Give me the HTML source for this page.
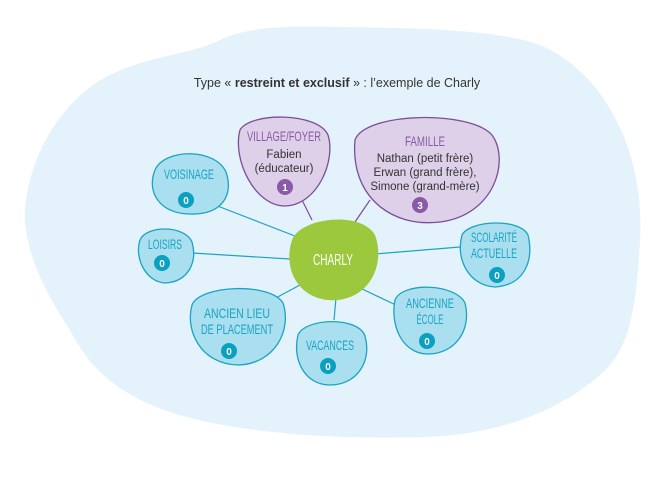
<!DOCTYPE html>
<html><head><meta charset="utf-8"><style>
body{margin:0;background:#fff;width:658px;height:484px;overflow:hidden}
text{font-family:"Liberation Sans",sans-serif}
.h{fill:#1ba3c4;font-size:14px}
.hp{fill:#8a5aa8;font-size:14px}
.b{fill:#333;font-size:11.5px}
</style></head><body>
<svg width="658" height="484" viewBox="0 0 658 484" xmlns="http://www.w3.org/2000/svg">
<path d="M220,40 C250,25 300,26 340,27 C420,28 500,30 540,45 C610,75 645,160 640,240 C636,310 630,350 600,375 C560,410 500,435 424,437 C330,440 230,432 170,412 C120,395 90,370 70,330 C40,285 20,240 26,200 C35,140 70,95 110,75 C150,55 190,55 220,40 Z" fill="#e4f3fb"/>
<text x="337" y="87" text-anchor="middle" style="font-size:12.5px;fill:#333">Type « <tspan font-weight="bold">restreint et exclusif</tspan> » : l’exemple de Charly</text>
<g stroke="#1ba3c4" stroke-width="1.2">
<line x1="215" y1="205" x2="300" y2="238"/>
<line x1="192" y1="253" x2="290" y2="259"/>
<line x1="272" y1="300" x2="300" y2="285"/>
<line x1="336" y1="298" x2="334" y2="320"/>
<line x1="360" y1="288" x2="400" y2="307"/>
<line x1="375" y1="254" x2="460" y2="247"/>
</g>
<g stroke="#7b4d9b" stroke-width="1.2">
<line x1="302" y1="200" x2="312" y2="220"/>
<line x1="370" y1="200" x2="355" y2="222"/>
</g>
<g fill="#a9dfee" stroke="#1ba3c4" stroke-width="1.3">
<path d="M155,170 C165,148 215,148 226,172 C234,195 222,215 190,214 C160,214 146,192 155,170Z"/>
<path d="M140,240 C146,225 185,225 192,242 C198,262 188,282 165,283 C146,282 134,258 140,240Z"/>
<path d="M462,235 C470,220 520,218 528,235 C534,260 525,285 495,287 C470,286 455,260 462,235Z"/>
<path d="M192,305 C200,285 270,282 283,303 C292,330 275,364 238,365 C200,364 185,330 192,305Z"/>
<path d="M298,335 C305,318 358,316 365,336 C372,360 358,385 330,385 C305,385 292,360 298,335Z"/>
<path d="M395,300 C402,282 455,283 465,303 C472,330 455,354 428,354 C402,354 390,325 395,300Z"/>
</g>
<g fill="#ddd0e8" stroke="#7b4d9b" stroke-width="1.3">
<path d="M240,130 C250,112 318,112 328,135 C336,160 318,205 285,206 C255,206 232,160 240,130Z"/>
<path d="M355,140 C365,112 470,110 492,135 C510,160 495,215 440,222 C390,228 350,195 355,140Z"/>
</g>
<path d="M292,240 C300,218 360,210 375,235 C385,262 372,296 338,300 C300,303 282,270 292,240Z" fill="#9bc83c"/>
<text x="333" y="265" text-anchor="middle" style="font-size:16px;fill:#fff" textLength="40" lengthAdjust="spacingAndGlyphs">CHARLY</text>
<g text-anchor="middle">
<text class="hp" x="284" y="141" textLength="74" lengthAdjust="spacingAndGlyphs">VILLAGE/FOYER</text>
<text class="b" x="284" y="158">Fabien</text>
<text class="b" x="284" y="172">(éducateur)</text>
<text class="hp" x="425" y="146" textLength="40" lengthAdjust="spacingAndGlyphs">FAMILLE</text>
<text class="b" x="425" y="162">Nathan (petit frère)</text>
<text class="b" x="425" y="176">Erwan (grand frère),</text>
<text class="b" x="425" y="190">Simone (grand-mère)</text>
<text class="h" x="189" y="179" textLength="50" lengthAdjust="spacingAndGlyphs">VOISINAGE</text>
<text class="h" x="165" y="249" textLength="34" lengthAdjust="spacingAndGlyphs">LOISIRS</text>
<text class="h" x="494" y="242" textLength="46" lengthAdjust="spacingAndGlyphs">SCOLARITÉ</text>
<text class="h" x="494" y="258" textLength="46" lengthAdjust="spacingAndGlyphs">ACTUELLE</text>
<text class="h" x="237" y="318" textLength="66" lengthAdjust="spacingAndGlyphs">ANCIEN LIEU</text>
<text class="h" x="237" y="334" textLength="72" lengthAdjust="spacingAndGlyphs">DE PLACEMENT</text>
<text class="h" x="330" y="350" textLength="48" lengthAdjust="spacingAndGlyphs">VACANCES</text>
<text class="h" x="430" y="308" textLength="48" lengthAdjust="spacingAndGlyphs">ANCIENNE</text>
<text class="h" x="430" y="324" textLength="27" lengthAdjust="spacingAndGlyphs">ÉCOLE</text>
</g>
<g fill="#8a5aa8"><circle cx="285" cy="187" r="8"/><circle cx="420" cy="205" r="8"/></g>
<g fill="#0aa0c0"><circle cx="186" cy="200" r="8"/><circle cx="162" cy="263" r="8"/><circle cx="497" cy="275" r="8"/><circle cx="229" cy="351" r="8"/><circle cx="328" cy="366" r="8"/><circle cx="427" cy="341" r="8"/></g>
<g fill="#fff" font-size="10" font-weight="bold" text-anchor="middle">
<text x="285" y="191">1</text><text x="420" y="209">3</text>
<text x="186" y="204">0</text><text x="162" y="267">0</text><text x="497" y="279">0</text><text x="229" y="355">0</text><text x="328" y="370">0</text><text x="427" y="345">0</text>
</g>
</svg>
</body></html>
